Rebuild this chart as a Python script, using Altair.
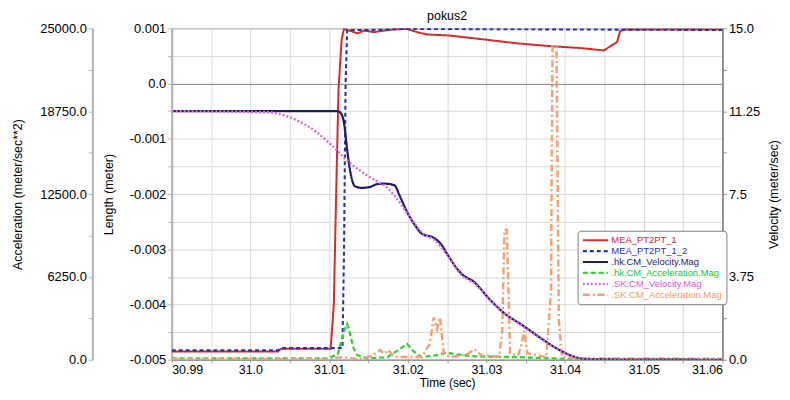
import altair as alt
import pandas as pd

# ---------------- data ----------------
series_names = ["MEA_PT2PT_1", "MEA_PT2PT_1_2", ".hk.CM_Velocity.Mag",
                ".hk.CM_Acceleration.Mag", ".SK.CM_Velocity.Mag", ".SK.CM_Acceleration.Mag"]
series_colors = ["#d42b2b", "#2432b8", "#1c1c6b", "#33d233", "#e066e0", "#f2a272"]
series_dashes = [[1, 0], [4, 3], [1, 0], [5, 3], [2, 2], [7, 3, 2, 3]]
series_widths = [2.0, 2.5, 1.8, 2.0, 1.3, 1.4]

# Length (meter)
mea1_t = [30.990, 31.0035, 31.0039, 31.0102, 31.0106, 31.0109, 31.0112, 31.0116, 31.0119,
          31.0136, 31.0145, 31.0157, 31.0165, 31.0182, 31.0199, 31.0212, 31.0224, 31.0253,
          31.0296, 31.0338, 31.0379, 31.0422, 31.0449, 31.0466, 31.0470, 31.0477, 31.0600]
mea1_v = [-0.00485, -0.00485, -0.00480, -0.00480, -0.00400, -0.00200, -0.00010, 0.00080, 0.00099,
          0.00091, 0.00096, 0.00093, 0.00095, 0.00098, 0.00099, 0.00093, 0.00089, 0.00087,
          0.00080, 0.00073, 0.00068, 0.00064, 0.00060, 0.00075, 0.00095, 0.00098, 0.00098]

mea2_t = [30.990, 31.0035, 31.0039, 31.0117, 31.0119, 31.0121, 31.0123, 31.0150, 31.0200, 31.0600]
mea2_v = [-0.00483, -0.00483, -0.00479, -0.00479, -0.00300, 0.00000, 0.00097, 0.00097, 0.00099, 0.00097]

# Velocity (meter/sec)
hkvel_t = [30.990, 31.0111, 31.0116, 31.0119, 31.0123, 31.0127, 31.0133, 31.0142, 31.0152,
           31.0161, 31.0170, 31.0183, 31.0190, 31.0199, 31.0209, 31.0218, 31.0233, 31.0243,
           31.0249, 31.0268, 31.0285, 31.0304, 31.0321, 31.0347, 31.0367, 31.0388, 31.0407,
           31.0430, 31.0600]
hkvel_v = [11.25, 11.25, 11.1, 10.7, 9.5, 8.5, 7.85, 7.78, 7.82,
           7.95, 7.97, 7.9, 7.4, 6.7, 6.1, 5.7, 5.52, 5.2,
           4.85, 3.9, 3.5, 2.74, 2.16, 1.53, 1.03, 0.54, 0.2,
           0.02, 0.0]

skvel_t = [30.990, 31.0022, 31.0035, 31.0048, 31.0060, 31.0085, 31.0102, 31.0127, 31.0152,
           31.0177, 31.0186, 31.0203, 31.0220, 31.0233, 31.0249, 31.0268, 31.0285, 31.0304,
           31.0321, 31.0347, 31.0367, 31.0388, 31.0407, 31.0430, 31.0600]
skvel_v = [11.25, 11.2, 11.14, 11.0, 10.82, 10.28, 9.75, 8.89, 8.26,
           7.68, 7.3, 6.45, 5.7, 5.45, 4.8, 3.84, 3.45, 2.72,
           2.14, 1.5, 1.0, 0.52, 0.19, 0.02, 0.0]

# Acceleration (meter/sec**2)
hkacc_t = [30.990, 31.0098, 31.0111, 31.0117, 31.0120, 31.0123, 31.0126, 31.0131, 31.0136,
           31.0148, 31.0174, 31.0186, 31.0199, 31.0208, 31.0218, 31.0237, 31.0249, 31.0262,
           31.0287, 31.0338, 31.0388, 31.0426, 31.0600]
hkacc_v = [100, 100, 400, 1700, 2300, 2700, 2100, 900, 350,
           100, 200, 650, 1200, 600, 200, 350, 550, 400,
           250, 200, 100, 0, 0]

skacc_t = [30.990, 31.0098, 31.0117, 31.0136, 31.0155, 31.0165, 31.0170, 31.0175, 31.0183,
           31.0218, 31.0228, 31.0233, 31.0237, 31.0241, 31.0246, 31.0256, 31.0275, 31.0285,
           31.0294, 31.0316, 31.0320, 31.0323, 31.0326, 31.0330, 31.0340, 31.0344, 31.0348,
           31.0352, 31.0376, 31.0382, 31.0384, 31.0389, 31.0392, 31.0396, 31.0426, 31.0600]
skacc_v = [50, 50, 200, 50, 300, 750, 450, 750, 200,
           200, 1200, 3200, 2300, 3200, 400, 200, 400, 800,
           300, 250, 2000, 9800, 9800, 500, 300, 1000, 2170,
           500, 200, 5000, 23650, 23650, 3000, 200, 100, 80]

series_t = [mea1_t, mea2_t, hkvel_t, hkacc_t, skvel_t, skacc_t]
series_v = [mea1_v, mea2_v, hkvel_v, hkacc_v, skvel_v, skacc_v]

rows = []
for name, ts, vs in zip(series_names, series_t, series_v):
    for t, v in zip(ts, vs):
        rows.append({"t": t, "v": v, "series": name})
df = pd.DataFrame(rows)

FONT = "Liberation Sans"

len_vals = [round(-0.005 + i * 0.0005, 4) for i in range(13)]
vel_vals = [round(i * 1.875, 4) for i in range(9)]
acc_vals = [i * 3125 for i in range(9)]
x_vals = [round(30.99 + i * 0.005, 3) for i in range(15)]

x_axis = alt.Axis(
    values=x_vals,
    labelExpr="round(datum.value*1000) % 10 == 0 ? (round(datum.value*100) % 10 == 0 ? format(datum.value, '.1f') : format(datum.value, '.2f')) : ''",
    title="Time (sec)", grid=True, gridColor="#d9d9d9", gridWidth=1,
    domainColor="#999999", domainWidth=1.5, tickColor="#999999", tickSize=3,
    labelPadding=1, titlePadding=1, labelFontSize=12.5, titleFontSize=12,
    titleFontWeight="normal", labelColor="#000000", titleColor="#000000",
)
x_enc = alt.X("t:Q", scale=alt.Scale(domain=[30.99, 31.06], nice=False, zero=False), axis=x_axis)

legend = alt.Legend(
    title=None, orient="none", legendX=409, legendY=204,
    fillColor="white", strokeColor="#808080", cornerRadius=3, padding=4,
    labelFontSize=9.5, labelFont=FONT, symbolType="stroke", symbolSize=640,
    symbolStrokeWidth=2, clipHeight=11, rowPadding=0, labelOffset=2,
    labelColor=alt.ExprRef(
        "datum.value == 'MEA_PT2PT_1' ? '#d42b2b' : datum.value == 'MEA_PT2PT_1_2' ? '#2432b8' : "
        "datum.value == '.hk.CM_Velocity.Mag' ? '#1c1c6b' : datum.value == '.hk.CM_Acceleration.Mag' ? '#22c422' : "
        "datum.value == '.SK.CM_Velocity.Mag' ? '#e055e0' : '#f09a66'"
    ),
)
color_enc = alt.Color("series:N", scale=alt.Scale(domain=series_names, range=series_colors), legend=legend)
dash_enc = alt.StrokeDash("series:N", scale=alt.Scale(domain=series_names, range=series_dashes), legend=legend)
width_enc = alt.StrokeWidth("series:N", scale=alt.Scale(domain=series_names, range=series_widths), legend=None)

common_axis = dict(labelFontSize=13, titleFontSize=12.5, titleFontWeight="normal",
                   labelColor="#000000", titleColor="#000000")

acc_axis = alt.Axis(orient="left", offset=80, values=acc_vals,
                    labelExpr="round(datum.value/3125) % 2 == 0 ? format(datum.value, '.1f') : ''",
                    title="Acceleration (meter/sec**2)", grid=False,
                    domainColor="#b3b3b3", domainWidth=2, tickColor="#b3b3b3", tickSize=4,
                    labelPadding=2, titlePadding=15, **common_axis)
len_axis = alt.Axis(orient="left", values=len_vals,
                    labelExpr="round(datum.value*2000) % 2 == 0 ? (abs(datum.value) < 1e-9 ? '0.0' : replace(format(datum.value, '.3f'), '\u2212', '-')) : ''",
                    title="Length (meter)", grid=True,
                    gridColor={"condition": {"test": "abs(datum.value) < 1e-9", "value": "#808080"}, "value": "#d9d9d9"},
                    domainColor="#b3b3b3", domainWidth=2, tickColor="#b3b3b3", tickSize=4,
                    labelPadding=2, titlePadding=14, **common_axis)
vel_axis = alt.Axis(orient="right", values=vel_vals,
                    labelExpr="round(datum.value/1.875) % 2 == 0 ? (round(datum.value) == datum.value ? format(datum.value, '.1f') : '' + datum.value) : ''",
                    title="Velocity (meter/sec)", grid=False, titleAngle=270, titleBaseline="top",
                    domainColor="#808080", domainWidth=1.5, tickColor="#999999", tickSize=4,
                    labelPadding=2, titlePadding=8, **common_axis)

def layer_for(names, y_enc, interp="linear"):
    return alt.Chart(df).transform_filter(
        alt.FieldOneOfPredicate(field="series", oneOf=names)
    ).mark_line(interpolate=interp, clip=True).encode(
        x=x_enc, y=y_enc, color=color_enc, strokeDash=dash_enc, strokeWidth=width_enc,
    )

acc_layer = layer_for([".hk.CM_Acceleration.Mag", ".SK.CM_Acceleration.Mag"],
                      alt.Y("v:Q", scale=alt.Scale(domain=[0, 25000], nice=False, zero=False), axis=acc_axis))
vel_layer = layer_for([".hk.CM_Velocity.Mag", ".SK.CM_Velocity.Mag"],
                      alt.Y("v:Q", scale=alt.Scale(domain=[0, 15], nice=False, zero=False), axis=vel_axis),
                      interp="monotone")
len_layer = layer_for(["MEA_PT2PT_1", "MEA_PT2PT_1_2"],
                      alt.Y("v:Q", scale=alt.Scale(domain=[-0.005, 0.001], nice=False, zero=False), axis=len_axis))

chart = alt.layer(len_layer, acc_layer, vel_layer).resolve_scale(y="independent").properties(
    width=555, height=334,
    title=alt.TitleParams("pokus2", fontSize=12.5, fontWeight="normal", font=FONT, offset=0, anchor="middle"),
    autosize=alt.AutoSizeParams(type="none"),
    padding={"left": 165, "top": 19, "right": 60, "bottom": 31},
    background="white",
).configure_view(stroke="#808080", strokeWidth=1).configure_axis(
    labelFont=FONT, titleFont=FONT
)

chart.save("out.html", embed_options={"renderer": "svg", "actions": False})
